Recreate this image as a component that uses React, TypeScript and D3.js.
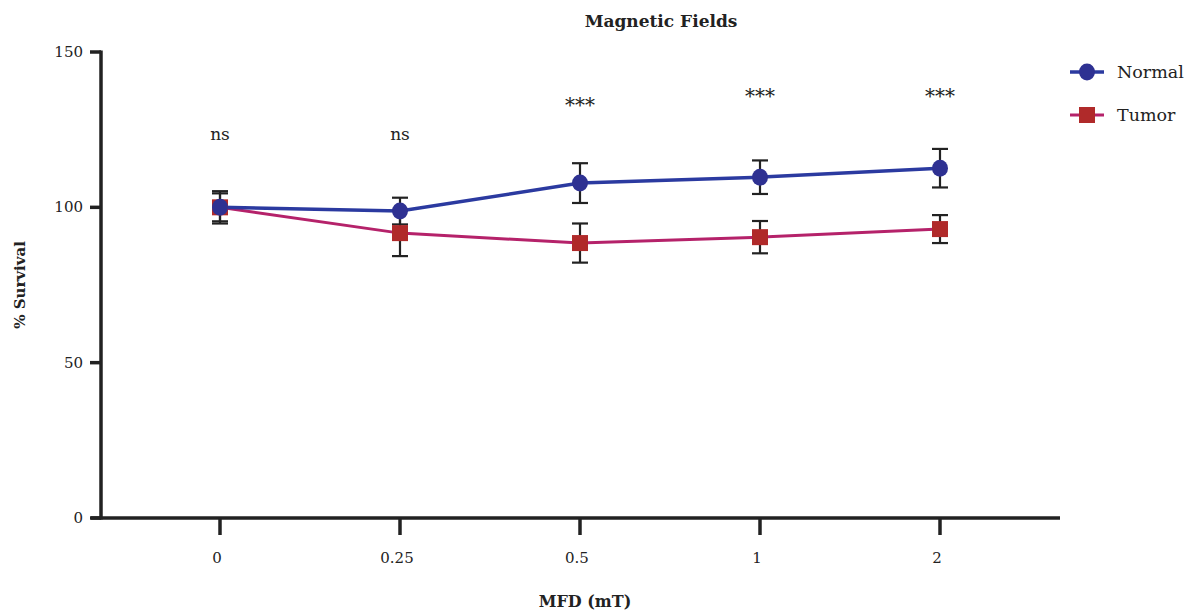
import React from "react";
import * as d3 from "d3";

const categories = ["0", "0.25", "0.5", "1", "2"];
const normalMean = [100, 98.8, 107.8, 109.7, 112.6];
const normalErr = [5.2, 4.3, 6.4, 5.4, 6.2];
const tumorMean = [100, 91.7, 88.5, 90.4, 93];
const tumorErr = [4.5, 7.4, 6.3, 5.2, 4.5];
const yTicks = [0, 50, 100, 150];
const annotations = ["ns", "ns", "***", "***", "***"];
const annotationY = [140, 140, 112, 103, 103];

const FONT = "'DejaVu Serif', 'Liberation Serif', serif";
const BLUE = "#2E3192";
const BLUE_LINE = "#2B3AA0";
const RED = "#B02A2A";
const RED_LINE = "#B5226A";
const AXIS = "#222";

export default function App() {
  const W = 1192, H = 614;
  const axisX = 101;
  const x = d3.scalePoint<string>().domain(categories).range([220, 940]);
  const y = d3.scaleLinear().domain([0, 150]).range([518, 52]);
  const line = d3.line<number>().x((_, i) => x(categories[i])!).y((d) => y(d));

  const errBars = (means: number[], errs: number[], key: string) =>
    means.map((m, i) => {
      const cx = x(categories[i])!;
      const top = y(m + errs[i]);
      const bot = y(m - errs[i]);
      return (
        <g key={key + i} stroke={AXIS} strokeWidth={2.2}>
          <line x1={cx} x2={cx} y1={top} y2={bot} />
          <line x1={cx - 8} x2={cx + 8} y1={top} y2={top} />
          <line x1={cx - 8} x2={cx + 8} y1={bot} y2={bot} />
        </g>
      );
    });

  return (
    <svg width={W} height={H} style={{ position: "absolute", left: 0, top: 0, background: "#fff" }}>
      <text x={661} y={27} textAnchor="middle" fontFamily={FONT} fontWeight="bold" fontSize={17} fill="#222">
        Magnetic Fields
      </text>
      {/* axes */}
      <line x1={axisX} x2={axisX} y1={y(150) - 1.5} y2={y(0) + 1.5} stroke={AXIS} strokeWidth={3.5} />
      <line x1={91} x2={1060} y1={y(0)} y2={y(0)} stroke={AXIS} strokeWidth={3.5} />
      {yTicks.map((t) => (
        <g key={"yt" + t}>
          <line x1={90} x2={axisX} y1={y(t)} y2={y(t)} stroke={AXIS} strokeWidth={3.5} />
          <text x={83} y={y(t) + 5} textAnchor="end" fontFamily={FONT} fontSize={15} fill="#222">
            {t}
          </text>
        </g>
      ))}
      {categories.map((c) => (
        <g key={"xt" + c}>
          <line x1={x(c)} x2={x(c)} y1={y(0)} y2={y(0) + 17} stroke={AXIS} strokeWidth={3.5} />
          <text x={x(c)! - 3} y={563} textAnchor="middle" fontFamily={FONT} fontSize={15} fill="#222">
            {c}
          </text>
        </g>
      ))}
      <text x={585} y={607} textAnchor="middle" fontFamily={FONT} fontWeight="bold" fontSize={16} fill="#222">
        MFD (mT)
      </text>
      <text
        transform={`translate(25,285) rotate(-90)`}
        textAnchor="middle"
        fontFamily={FONT}
        fontWeight="bold"
        fontSize={15}
        fill="#222"
      >
        % Survival
      </text>
      {/* annotations */}
      {categories.map((c, i) => (
        <text
          key={"an" + i}
          x={x(c)}
          y={annotationY[i]}
          textAnchor="middle"
          fontFamily={FONT}
          fontSize={annotations[i] === "***" ? 20 : 17}
          fill="#222"
        >
          {annotations[i]}
        </text>
      ))}
      {/* error bars */}
      {errBars(tumorMean, tumorErr, "te")}
      {errBars(normalMean, normalErr, "ne")}
      {/* lines */}
      <path d={line(tumorMean)!} fill="none" stroke={RED_LINE} strokeWidth={3} />
      <path d={line(normalMean)!} fill="none" stroke={BLUE_LINE} strokeWidth={3.5} />
      {tumorMean.map((m, i) => (
        <rect key={"tm" + i} x={x(categories[i])! - 8} y={y(m) - 8} width={16} height={16} fill={RED} />
      ))}
      {normalMean.map((m, i) => (
        <ellipse key={"nm" + i} cx={x(categories[i])} cy={y(m)} rx={8} ry={8.5} fill={BLUE} />
      ))}
      {/* legend */}
      <line x1={1070} x2={1104} y1={72} y2={72} stroke={BLUE_LINE} strokeWidth={3.5} />
      <ellipse cx={1087} cy={72} rx={8} ry={8.5} fill={BLUE} />
      <text x={1117} y={78} fontFamily={FONT} fontSize={17.5} fill="#222">Normal</text>
      <line x1={1070} x2={1104} y1={115} y2={115} stroke={RED_LINE} strokeWidth={3} />
      <rect x={1079} y={107} width={16} height={16} fill={RED} />
      <text x={1117} y={121} fontFamily={FONT} fontSize={17.5} fill="#222">Tumor</text>
    </svg>
  );
}
